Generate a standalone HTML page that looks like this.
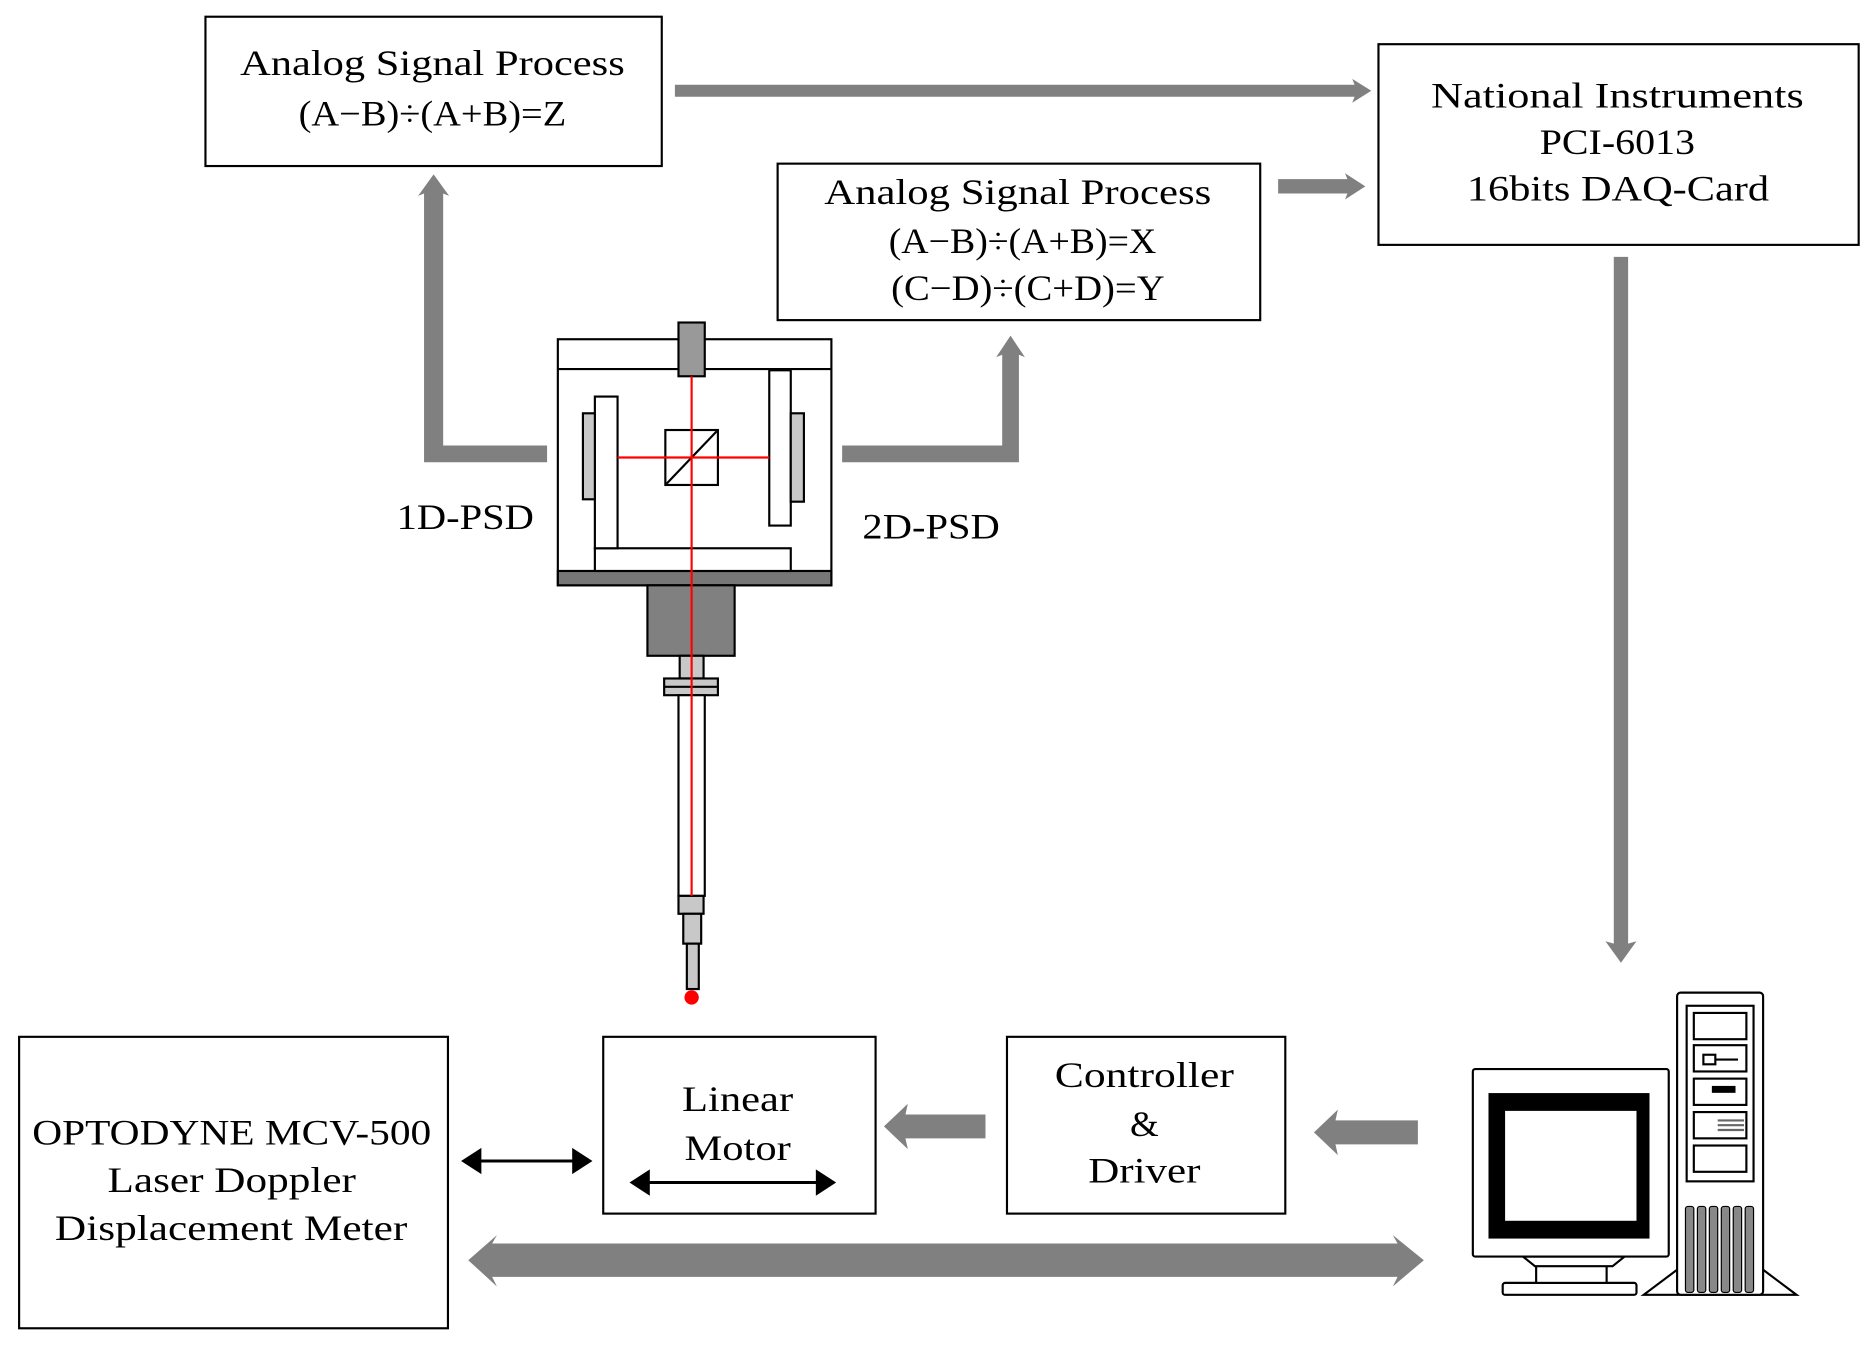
<!DOCTYPE html>
<html><head><meta charset="utf-8"><style>
html,body{margin:0;padding:0;background:#fff;}
svg{display:block;}
text{font-family:"Liberation Serif",serif;fill:#000;}
</style></head><body>
<svg width="1873" height="1345" viewBox="0 0 1568 1126" preserveAspectRatio="none" xmlns="http://www.w3.org/2000/svg">
<rect x="0" y="0" width="1568" height="1126" fill="#fff"/>
<g fill="#808080">
<polygon points="565,71 1134,71 1132,66 1148,76 1132,86 1134,81 565,81"/>
<polygon points="1070,150 1128,150 1126,145 1143,156 1126,167 1128,162 1070,162"/>
<polygon points="458,373 458,387 355,387 355,162 350,164 363,146 376,164 371,162 371,373"/>
<polygon points="705,373 705,387 853,387 853,297 858,299 846,281 834,299 839,297 839,373"/>
<polygon points="1351,215 1363,215 1363,790 1370,788 1357,806 1344,788 1351,790"/>
<polygon points="825,933 825,953 758,953 760,962 740,943 760,924 758,933"/>
<polygon points="1187,938 1187,958 1118,958 1120,967 1100,948 1120,929 1118,938"/>
<polygon points="392,1055 416,1034 412,1041 1170,1041 1166,1034 1192,1055 1166,1077 1170,1069 412,1069 416,1077"/>
</g>
<g fill="#000" stroke="#000">
<line x1="396" y1="972" x2="486" y2="972" stroke-width="2.5"/>
<polygon points="386,972 403,961 403,983" stroke="none"/>
<polygon points="496,972 479,961 479,983" stroke="none"/>
<line x1="537" y1="990" x2="690" y2="990" stroke-width="2.5"/>
<polygon points="527,990 544,979 544,1001" stroke="none"/>
<polygon points="700,990 683,979 683,1001" stroke="none"/>
</g>
<g fill="none" stroke="#000" stroke-width="1.8">
<rect x="172" y="14" width="382" height="125"/>
<rect x="1154" y="37" width="402" height="168"/>
<rect x="651" y="137" width="404" height="131"/>
<rect x="16" y="868" width="359" height="244"/>
<rect x="505" y="868" width="228" height="148"/>
<rect x="843" y="868" width="233" height="148"/>
</g>
<g font-size="30" lengthAdjust="spacingAndGlyphs">
<text x="201" y="63" textLength="322" lengthAdjust="spacingAndGlyphs">Analog Signal Process</text>
<text x="250" y="105" textLength="224" lengthAdjust="spacingAndGlyphs">(A−B)÷(A+B)=Z</text>
<text x="1198" y="90" textLength="312" lengthAdjust="spacingAndGlyphs">National Instruments</text>
<text x="1289" y="129" textLength="130" lengthAdjust="spacingAndGlyphs">PCI-6013</text>
<text x="1228" y="168" textLength="253" lengthAdjust="spacingAndGlyphs">16bits DAQ-Card</text>
<text x="690" y="171" textLength="324" lengthAdjust="spacingAndGlyphs">Analog Signal Process</text>
<text x="744" y="212" textLength="224" lengthAdjust="spacingAndGlyphs">(A−B)÷(A+B)=X</text>
<text x="746" y="251" textLength="229" lengthAdjust="spacingAndGlyphs">(C−D)÷(C+D)=Y</text>
<text x="27" y="958" textLength="334" lengthAdjust="spacingAndGlyphs">OPTODYNE MCV-500</text>
<text x="90" y="998" textLength="208" lengthAdjust="spacingAndGlyphs">Laser Doppler</text>
<text x="46" y="1038" textLength="295" lengthAdjust="spacingAndGlyphs">Displacement Meter</text>
<text x="571" y="930" textLength="93" lengthAdjust="spacingAndGlyphs">Linear</text>
<text x="573" y="971" textLength="89" lengthAdjust="spacingAndGlyphs">Motor</text>
<text x="883" y="910" textLength="150" lengthAdjust="spacingAndGlyphs">Controller</text>
<text x="946" y="951" textLength="24" lengthAdjust="spacingAndGlyphs">&amp;</text>
<text x="911" y="990" textLength="94" lengthAdjust="spacingAndGlyphs">Driver</text>
<text x="332" y="443" textLength="115" lengthAdjust="spacingAndGlyphs">1D-PSD</text>
<text x="722" y="451" textLength="115" lengthAdjust="spacingAndGlyphs">2D-PSD</text>
</g>
<g stroke="#000" stroke-width="1.8">
<rect x="467" y="284" width="229" height="206" fill="#fff"/>
<line x1="467" y1="309" x2="696" y2="309"/>
<rect x="467" y="478" width="229" height="12" fill="#777"/>
<rect x="498" y="459" width="164" height="19" fill="#fff"/>
<rect x="498" y="332" width="19" height="127" fill="#fff"/>
<rect x="488" y="346" width="10" height="72" fill="#c8c8c8"/>
<rect x="644" y="310" width="18" height="130" fill="#fff"/>
<rect x="662" y="346" width="11" height="74" fill="#c8c8c8"/>
<rect x="557" y="360" width="44" height="46" fill="#fff"/>
<line x1="558" y1="405" x2="600" y2="361"/>
<rect x="568" y="270" width="22" height="45" fill="#999"/>
<rect x="542" y="490" width="73" height="59" fill="#808080"/>
<rect x="569" y="549" width="20" height="19" fill="#c8c8c8"/>
<rect x="556" y="568" width="45" height="14" fill="#c8c8c8"/>
<line x1="556" y1="575" x2="601" y2="575"/>
<rect x="568" y="582" width="22" height="168" fill="#fff"/>
<rect x="568" y="750" width="21" height="15" fill="#c8c8c8"/>
<rect x="572" y="765" width="15" height="25" fill="#c8c8c8"/>
<rect x="575" y="790" width="10" height="38" fill="#c8c8c8"/>
</g>
<g stroke="#f00" stroke-width="1.8">
<line x1="579" y1="315" x2="579" y2="750"/>
<line x1="517" y1="383" x2="644" y2="383"/>
</g>
<circle cx="579" cy="835" r="6" fill="#f00"/>
<g stroke="#000" stroke-width="1.8" fill="#fff">
<polygon points="1376,1084 1404,1063 1476,1063 1504,1084"/>
<rect x="1404" y="831" width="72" height="253" rx="3"/>
<rect x="1412" y="842" width="56" height="147"/>
<rect x="1418" y="848" width="44" height="22"/>
<rect x="1418" y="875" width="44" height="22"/>
<rect x="1418" y="903" width="44" height="22"/>
<rect x="1418" y="931" width="44" height="22"/>
<rect x="1418" y="959" width="44" height="22"/>
<line x1="1430" y1="887" x2="1455" y2="887"/>
<rect x="1426" y="883" width="10" height="8" fill="#fff"/>
<rect x="1434" y="910" width="18" height="4" fill="#000"/>
<line x1="1438" y1="938" x2="1460" y2="938" stroke="#666"/>
<line x1="1438" y1="942" x2="1460" y2="942" stroke="#666"/>
<line x1="1438" y1="946" x2="1460" y2="946" stroke="#666"/>
</g>
<g fill="#888" stroke="#000" stroke-width="1">
<rect x="1411" y="1010" width="7" height="72" rx="2"/>
<rect x="1421" y="1010" width="7" height="72" rx="2"/>
<rect x="1431" y="1010" width="7" height="72" rx="2"/>
<rect x="1441" y="1010" width="7" height="72" rx="2"/>
<rect x="1451" y="1010" width="7" height="72" rx="2"/>
<rect x="1461" y="1010" width="7" height="72" rx="2"/>
</g>
<g stroke="#000" stroke-width="1.8" fill="#fff">
<rect x="1258" y="1074" width="112" height="10" rx="2"/>
<rect x="1286" y="1052" width="59" height="22"/>
<polygon points="1275,1052 1360,1052 1350,1060 1285,1060"/>
<rect x="1233" y="895" width="164" height="157" rx="2"/>
<rect x="1247" y="916" width="133" height="120" fill="#000"/>
<rect x="1260" y="930" width="110" height="92" fill="#fff" stroke="none"/>
</g>
</svg>
</body></html>
